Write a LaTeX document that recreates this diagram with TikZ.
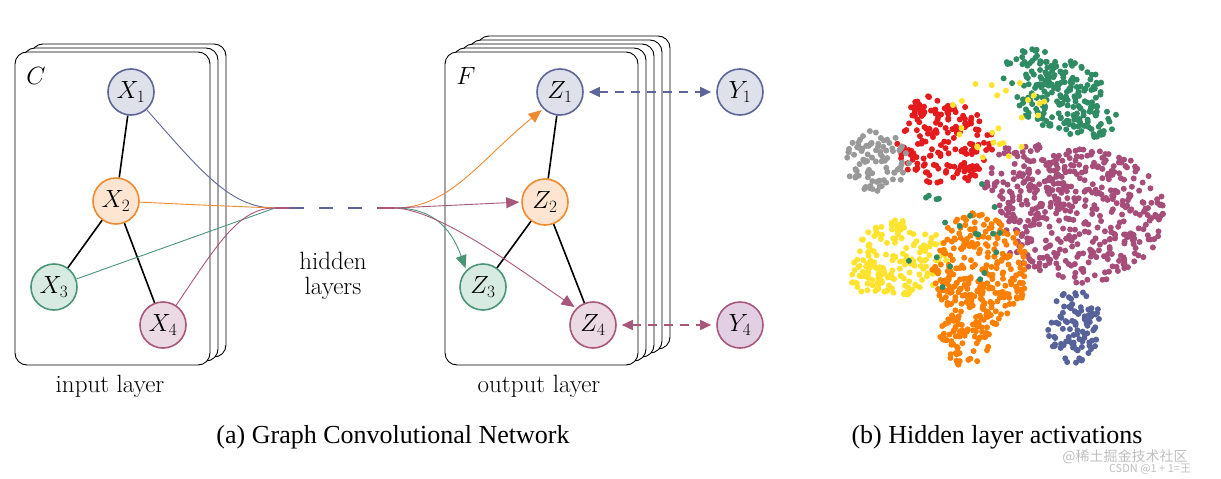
\documentclass[tikz,border=0pt]{standalone}
\usepackage{fontspec}
\setmainfont{Latin Modern Roman}
\newfontfamily\capfont{Liberation Serif}
\newfontfamily\cjk{Noto Sans CJK SC}
\usetikzlibrary{arrows.meta}
\definecolor{cb}{HTML}{5E6598}\definecolor{fb}{HTML}{DEE0EA}
\definecolor{co}{HTML}{F08A2E}\definecolor{fo}{HTML}{FDE5D2}
\definecolor{cg}{HTML}{4B9577}\definecolor{fg}{HTML}{D8EBE2}
\definecolor{cp}{HTML}{A8577A}\definecolor{fp}{HTML}{EBD9E3}
\definecolor{fy}{HTML}{E3CFE3}
\definecolor{sgreen}{HTML}{2E8B64}\definecolor{sred}{HTML}{E41A1C}
\definecolor{sgray}{HTML}{999999}\definecolor{syel}{HTML}{FFE32E}
\definecolor{sora}{HTML}{FF8000}\definecolor{spur}{HTML}{A64D79}
\definecolor{sblu}{HTML}{58629A}
\newcommand\mycluster[6]{%
  \foreach \i in {1,...,#6}{
    \pgfmathsetmacro\ra{sqrt(rnd)}\pgfmathsetmacro\an{360*rnd}
    \fill[#1] ({#2+#4*\ra*cos(\an)},{#3+#5*\ra*sin(\an)}) circle (3);
  }}
\begin{document}
\begin{tikzpicture}[x=1pt,y=-1pt,
  nd/.style={circle,draw=#1,line width=1.6pt,minimum size=46pt,inner sep=0pt,font=\fontsize{27}{27}\selectfont},
  box/.style={draw,fill=white,rounded corners=12pt,line width=0.9pt},
  e/.style={line width=1.6pt},
  fl/.style={line width=0.9pt},
  ar/.style={line width=0.9pt,-{Triangle[length=13pt,width=11pt]}},
  lab/.style={font=\fontsize{25}{30}\selectfont}]
\useasboundingbox (0,0) rectangle (1221,479);
% stacks
\foreach \k in {2,1,0} \draw[box] (15+8*\k,52-4*\k) rectangle (210+8*\k,365-4*\k);
\foreach \k in {4,3,2,1,0} \draw[box] (445+8*\k,52-4*\k) rectangle (638+8*\k,365-4*\k);
\node[font=\fontsize{27}{27}\selectfont] (C) at (36,76) {$C$};
\node[font=\fontsize{27}{27}\selectfont] (F) at (466,76) {$F$};
% nodes
\node[nd=cb,fill=fb] (x1) at (131,92) {$X_1$};
\node[nd=co,fill=fo] (x2) at (116,201) {$X_2$};
\node[nd=cg,fill=fg] (x3) at (54,287) {$X_3$};
\node[nd=cp,fill=fp] (x4) at (163,325) {$X_4$};
\node[nd=cb,fill=fb] (z1) at (560,92) {$Z_1$};
\node[nd=co,fill=fo] (z2) at (545,202) {$Z_2$};
\node[nd=cg,fill=fg] (z3) at (483,287) {$Z_3$};
\node[nd=cp,fill=fp] (z4) at (593,325) {$Z_4$};
\node[nd=cb,fill=fb] (y1) at (740,92) {$Y_1$};
\node[nd=cp,fill=fy] (y4) at (740,325) {$Y_4$};
\draw[e] (x1)--(x2) (x2)--(x3) (x2)--(x4) (z1)--(z2) (z2)--(z3) (z2)--(z4);
% hidden
\coordinate (h1) at (275,208); \coordinate (h2) at (395,208);
\draw[fl,cb] (x1) .. controls (200,170) and (230,208) .. (h1);
\draw[fl,co] (x2) .. controls (200,205) .. (h1);
\draw[fl,cg] (x3) -- (h1);
\draw[fl,cp] (x4) .. controls (220,240) and (240,208) .. (h1);
\draw[cb,line width=1.5pt,dash pattern=on 14pt off 15pt] (290,208) -- (380,208);
\draw[cp,line width=1.5pt] (275,208)--(290,208) (378,208)--(h2);
\node[lab] (hid) at (333,276) {\shortstack{hidden\\[4pt]layers}};
\draw[ar,co,shorten >=2pt] (h2) .. controls (450,208) and (480,160) .. (z1.225);
\draw[ar,cp,shorten >=2pt] (h2) -- (z2.west);
\draw[ar,cg,shorten >=2pt] (h2) .. controls (430,208) and (450,225) .. (z3.135);
\draw[ar,cp,shorten >=2pt] (h2) .. controls (440,210) and (520,270) .. (z4.135);
\draw[cb,line width=1.5pt,dash pattern=on 9pt off 7pt,{Triangle[length=11pt,width=10pt]}-{Triangle[length=11pt,width=10pt]},shorten <=5pt,shorten >=5pt] (z1) -- (y1);
\draw[cp,line width=1.5pt,dash pattern=on 9pt off 7pt,{Triangle[length=11pt,width=10pt]}-{Triangle[length=11pt,width=10pt]},shorten <=5pt,shorten >=5pt] (z4) -- (y4);
\node[lab] (il) at (110,386) {input layer};
\node[lab] (ol) at (539,386) {output layer};
\node[font=\capfont\fontsize{26}{26}\selectfont] (ca) at (393,437) {(a) Graph Convolutional Network};
\node[font=\capfont\fontsize{26}{26}\selectfont] (cbb) at (997,437) {(b) Hidden layer activations};
% scatter
\pgfmathsetseed{7}
\mycluster{sgreen}{1060}{95}{45}{35}{150}
\mycluster{sgreen}{1030}{70}{30}{22}{40}
\mycluster{sgreen}{1090}{120}{28}{22}{40}
\mycluster{sred}{945}{145}{48}{42}{150}
\mycluster{sred}{935}{110}{25}{15}{30}
\mycluster{sgray}{878}{162}{32}{32}{90}
\mycluster{spur}{1080}{215}{85}{68}{420}
\mycluster{spur}{1025}{175}{45}{32}{60}
\mycluster{syel}{900}{258}{48}{38}{150}
\mycluster{syel}{870}{280}{25}{15}{40}
\mycluster{sora}{980}{270}{48}{58}{260}
\mycluster{sora}{965}{330}{27}{37}{80}
\mycluster{sblu}{1075}{328}{27}{38}{100}
\mycluster{syel}{1000}{120}{50}{50}{25}
\mycluster{sgreen}{960}{230}{60}{60}{20}
\node[font=\cjk\fontsize{14}{14}\selectfont,text=gray!50] (w1) at (1125,457) {@稀土掘金技术社区};
\node[font=\cjk\fontsize{11}{11}\selectfont,text=gray!50] (w2) at (1150,469) {CSDN @1 + 1=王};
\end{tikzpicture}
\end{document}
